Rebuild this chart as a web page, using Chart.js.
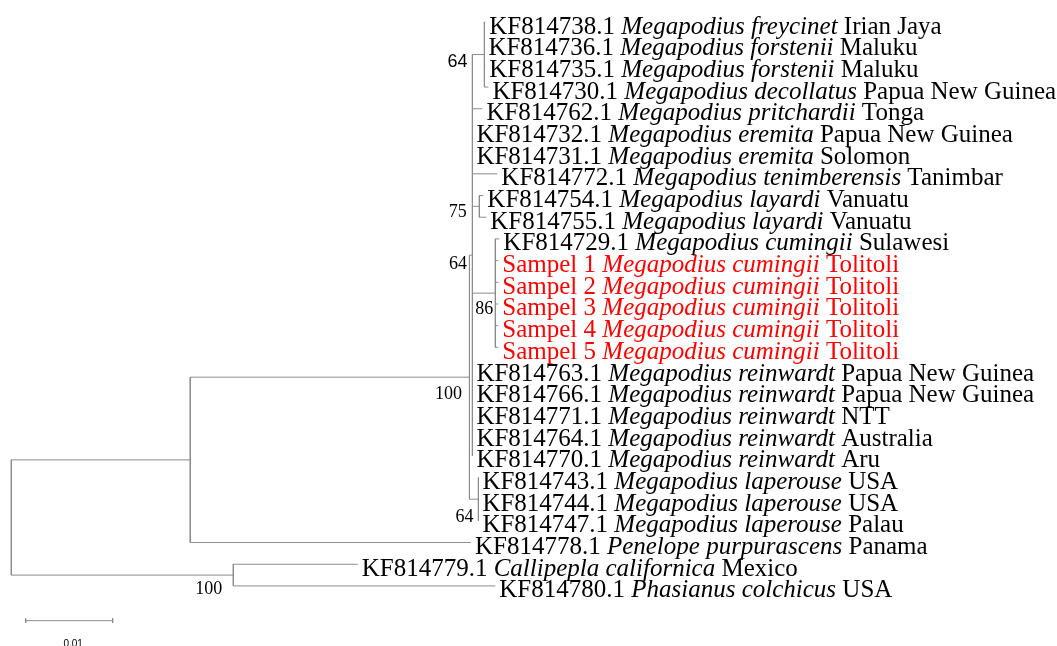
<!DOCTYPE html>
<html><head><meta charset="utf-8">
<script src="https://cdn.jsdelivr.net/npm/chart.js@4/dist/chart.umd.min.js"></script>
<style>html,body{margin:0;padding:0;background:#fff;}canvas{display:block;}</style>
</head><body>
<canvas id="c" width="1057" height="646"></canvas>
<script>
// ---- data ----
const accessions = ["KF814738.1","KF814736.1","KF814735.1","KF814730.1","KF814762.1","KF814732.1","KF814731.1","KF814772.1","KF814754.1","KF814755.1","KF814729.1","Sampel 1","Sampel 2","Sampel 3","Sampel 4","Sampel 5","KF814763.1","KF814766.1","KF814771.1","KF814764.1","KF814770.1","KF814743.1","KF814744.1","KF814747.1","KF814778.1","KF814779.1","KF814780.1"];
const species = ["Megapodius freycinet","Megapodius forstenii","Megapodius forstenii","Megapodius decollatus","Megapodius pritchardii","Megapodius eremita","Megapodius eremita","Megapodius tenimberensis","Megapodius layardi","Megapodius layardi","Megapodius cumingii","Megapodius cumingii","Megapodius cumingii","Megapodius cumingii","Megapodius cumingii","Megapodius cumingii","Megapodius reinwardt","Megapodius reinwardt","Megapodius reinwardt","Megapodius reinwardt","Megapodius reinwardt","Megapodius laperouse","Megapodius laperouse","Megapodius laperouse","Penelope purpurascens","Callipepla californica","Phasianus colchicus"];
const locations = ["Irian Jaya","Maluku","Maluku","Papua New Guinea","Tonga","Papua New Guinea","Solomon","Tanimbar","Vanuatu","Vanuatu","Sulawesi","Tolitoli","Tolitoli","Tolitoli","Tolitoli","Tolitoli","Papua New Guinea","Papua New Guinea","NTT","Australia","Aru","USA","USA","Palau","Panama","Mexico","USA"];
const highlighted = [11,12,13,14,15];
// tree in Newick form: leaf names are indices into the arrays above, internal labels are bootstrap values
const newickTree = "(((((0:0.0001,1:0,2:0.0001,3:0.00046)64:0.00138,4:0.00115,5:0,6:0,7:0.00287,(8:0.00046,9:0.0008)75:0.0008,(10:0.00046,11:0.00034,12:0.00034,13:0.00034,14:0.00034,15:0.00034)86:0.00264,16:0,17:0,18:0,19:0,20:0)64:0.00034,(21:0,22:0,23:0)64:0.00103)100:0.03209,24:0.03226):0.02057,(25:0.0143,26:0.03011)100:0.02552);";
const scaleBarLength = 0.01;
const scaleBarLabel = "0.01";

// ---- parse & layout ----
function parseNewick(s){
  let i=0;
  function node(){
    const n={children:[],label:'',len:0};
    if(s[i]==='('){
      i++; n.children.push(node());
      while(s[i]===','){i++; n.children.push(node());}
      i++;
    }
    let lab=''; while(i<s.length && !':,);'.includes(s[i])) lab+=s[i++];
    n.label=lab;
    if(s[i]===':'){i++; let num=''; while(i<s.length && !',);'.includes(s[i])) num+=s[i++]; n.len=parseFloat(num);}
    return n;
  }
  return node();
}
const root = parseNewick(newickTree);
const leafX = new Array(accessions.length).fill(0);
const internals = [];
function layout(n, x0){
  n.x = x0 + n.len;
  if(n.children.length===0){ n.y = parseInt(n.label,10); leafX[n.y]=n.x; return; }
  internals.push(n);
  n.children.forEach(c=>layout(c,n.x));
  n.y = (n.children[0].y + n.children[n.children.length-1].y)/2;
}
layout(root,0);

const segs = [];
function addSeg(x1,y1,x2,y2){ segs.push({x:x1,y:y1},{x:x2,y:y2},{x:x2,y:null}); }
internals.forEach(n=>{
  addSeg(n.x, n.children[0].y, n.x, n.children[n.children.length-1].y);
  n.children.forEach(c=>addSeg(n.x, c.y, c.x, c.y));
});

// scale bar (in data units)
const sbX0 = 0.00165, sbY = 27.6;
const scaleSegs = [
  {x:sbX0,y:sbY},{x:sbX0+scaleBarLength,y:sbY},{x:0,y:null},
  {x:sbX0,y:sbY-0.11},{x:sbX0,y:sbY+0.11},{x:0,y:null},
  {x:sbX0+scaleBarLength,y:sbY-0.11},{x:sbX0+scaleBarLength,y:sbY+0.11}
];

// label placement offsets (px) for bootstrap values, in preorder of labelled nodes
const supportStyle = [
  {dx:-7.5, dy:15.5, font:'18px "Liberation Serif"'},
  {dx:-5.5, dy:8, font:'18px "Liberation Serif"'},
  {dx:-17, dy:6.5, font:'18px "Liberation Sans"'},
  {dx:-12.5, dy:5, font:'18px "Liberation Serif"'},
  {dx:-2, dy:14.5, font:'18px "Liberation Serif"'},
  {dx:-5, dy:17, font:'18px "Liberation Serif"'},
  {dx:-11, dy:13, font:'18px "Liberation Serif"'}
];

const labelPlugin = {
  id:'treeLabels',
  afterDatasetsDraw(chart){
    const ctx = chart.ctx, xs = chart.scales.x, ys = chart.scales.y;
    ctx.save();
    ctx.textBaseline='alphabetic';
    ctx.textAlign='left';
    for(let i=0;i<accessions.length;i++){
      let x = xs.getPixelForValue(leafX[i]) + 4;
      const y = ys.getPixelForValue(i) + 11.5;
      ctx.fillStyle = highlighted.includes(i) ? '#ff0000' : '#000000';
      ctx.font = '25px "Liberation Serif"';
      ctx.fillText(accessions[i]+' ', x, y); x += ctx.measureText(accessions[i]+' ').width;
      ctx.font = 'italic 25px "Liberation Serif"';
      ctx.fillText(species[i]+' ', x, y); x += ctx.measureText(species[i]+' ').width;
      ctx.font = '25px "Liberation Serif"';
      ctx.fillText(locations[i], x, y);
    }
    // bootstrap
    ctx.fillStyle='#000'; ctx.textAlign='right';
    let k=0;
    internals.forEach(n=>{
      if(!n.label) return;
      const st = supportStyle[k++] || {dx:-4,dy:12,font:'18px "Liberation Serif"'};
      ctx.font = st.font;
      ctx.fillText(n.label, xs.getPixelForValue(n.x)+st.dx, ys.getPixelForValue(n.y)+st.dy+6);
    });
    // scale label
    ctx.textAlign='center'; ctx.font='10px "Liberation Sans"'; ctx.fillStyle='#000';
    ctx.fillText(scaleBarLabel, xs.getPixelForValue(sbX0+scaleBarLength/2)+4, ys.getPixelForValue(sbY)+26);
    ctx.restore();
  }
};

new Chart(document.getElementById('c'), {
  type:'scatter',
  data:{datasets:[
    {data:segs, showLine:true, spanGaps:false, borderColor:'#8c8c8c', borderWidth:1, pointRadius:0, pointHoverRadius:0, tension:0},
    {data:scaleSegs, showLine:true, spanGaps:false, borderColor:'#8c8c8c', borderWidth:1, pointRadius:0, pointHoverRadius:0, tension:0}
  ]},
  options:{
    responsive:false, animation:false, events:[],
    layout:{padding:0},
    plugins:{legend:{display:false}, tooltip:{enabled:false}, title:{display:false}},
    scales:{
      x:{type:'linear', display:false, min:-11.3/8700, max:(1057-11.3)/8700},
      y:{type:'linear', display:false, reverse:true, min:-22/21.69, max:(646-22)/21.69}
    }
  },
  plugins:[labelPlugin]
});
</script>
</body></html>
